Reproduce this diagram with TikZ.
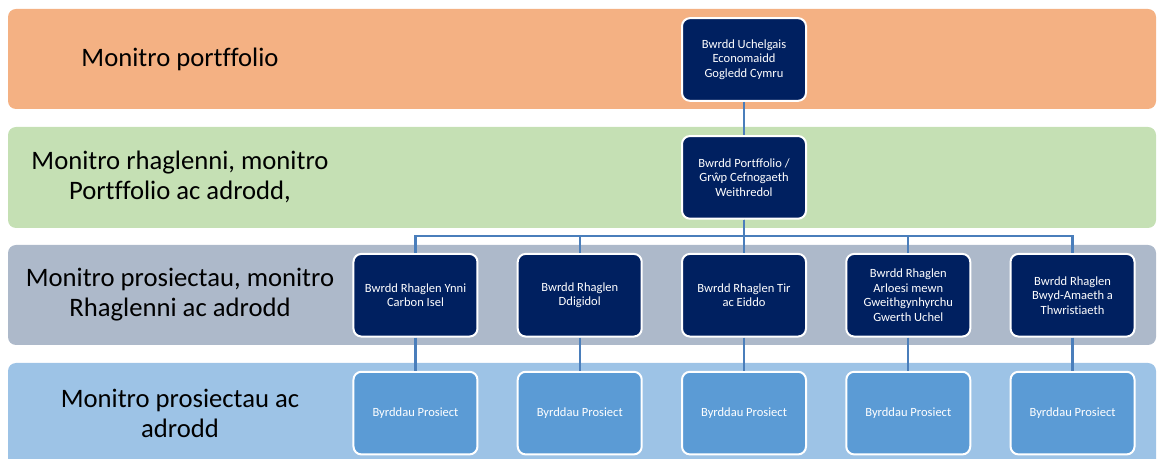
\documentclass[tikz,border=0pt]{standalone}
\usepackage{fontspec}
\setmainfont{Carlito}[Ligatures=NoCommon]
\usetikzlibrary{positioning}

\definecolor{bandorange}{RGB}{244,177,131}
\definecolor{bandgreen}{RGB}{197,224,180}
\definecolor{bandgrey}{RGB}{173,185,202}
\definecolor{bandblue}{RGB}{157,195,230}
\definecolor{boardnavy}{RGB}{0,32,96}
\definecolor{projectblue}{RGB}{91,155,213}
\definecolor{linkblue}{RGB}{74,126,187}

\tikzset{
  board/.style={draw=white, line width=1.5pt, fill=boardnavy, text=white, rounded corners=6pt,
    minimum width=93pt, minimum height=62pt, inner sep=2pt, align=center, font=\fontsize{9.4}{10.9}\selectfont},
  project/.style={board, fill=projectblue},
  link/.style={draw=linkblue, line width=1.6pt},
  band/.style={rounded corners=6pt},
  bandtext/.style={align=center, font=\fontsize{20}{22.5}\selectfont}
}

\begin{document}
\begin{tikzpicture}[x=0.75pt,y=-0.75pt,node distance=24.9pt and 28.7pt]
\useasboundingbox (0,0) rectangle (1157,459);
\clip (0,0) rectangle (1157,459);
% bands
\fill[bandorange,band] (8,9) rectangle (1156,109);
\fill[bandgreen,band] (8,127) rectangle (1156,228);
\fill[bandgrey,band] (8,245) rectangle (1156,345);
\fill[bandblue,band] (8,363) rectangle (1156,490);
\node[bandtext] (l0) at (180,59) {Monitro portffolio};
\node[bandtext] (l1) at (180,177) {Monitro rhaglenni, monitro\\Portffolio ac adrodd,};
\node[bandtext] (l2) at (180,295) {Monitro prosiectau, monitro\\Rhaglenni ac adrodd};
\node[bandtext] (l3) at (180,413) {Monitro prosiectau ac\\adrodd};
% boards
\node[board] (0) at (744,59.5) {Bwrdd Uchelgais\\Economaidd\\Gogledd Cymru};
\node[board] (1) [below=of 0] {Bwrdd Portffolio /\\Grŵp Cefnogaeth\\Weithredol};
\node[board] (4) [below=of 1] {Bwrdd Rhaglen Tir\\ac Eiddo};
\node[board] (3) [left=of 4] {Bwrdd Rhaglen\\Ddigidol};
\node[board] (2) [left=of 3] {Bwrdd Rhaglen Ynni\\Carbon Isel};
\node[board] (5) [right=of 4] {Bwrdd Rhaglen\\Arloesi mewn\\Gweithgynhyrchu\\Gwerth Uchel};
\node[board] (6) [right=of 5] {Bwrdd Rhaglen\\Bwyd-Amaeth a\\Thwristiaeth};
\foreach \i/\j in {2/7,3/8,4/9,5/10,6/11}
  \node[project] (\j) [below=of \i] {Byrddau Prosiect};
% links
\draw[link] (0.south) -- (1.north);
\foreach \i in {2,...,6}
  \draw[link] (1.south) -- ++(0,16) -| (\i.north);
\foreach \i/\j in {2/7,3/8,4/9,5/10,6/11}
  \draw[link] (\i.south) -- (\j.north);
\end{tikzpicture}
\end{document}
